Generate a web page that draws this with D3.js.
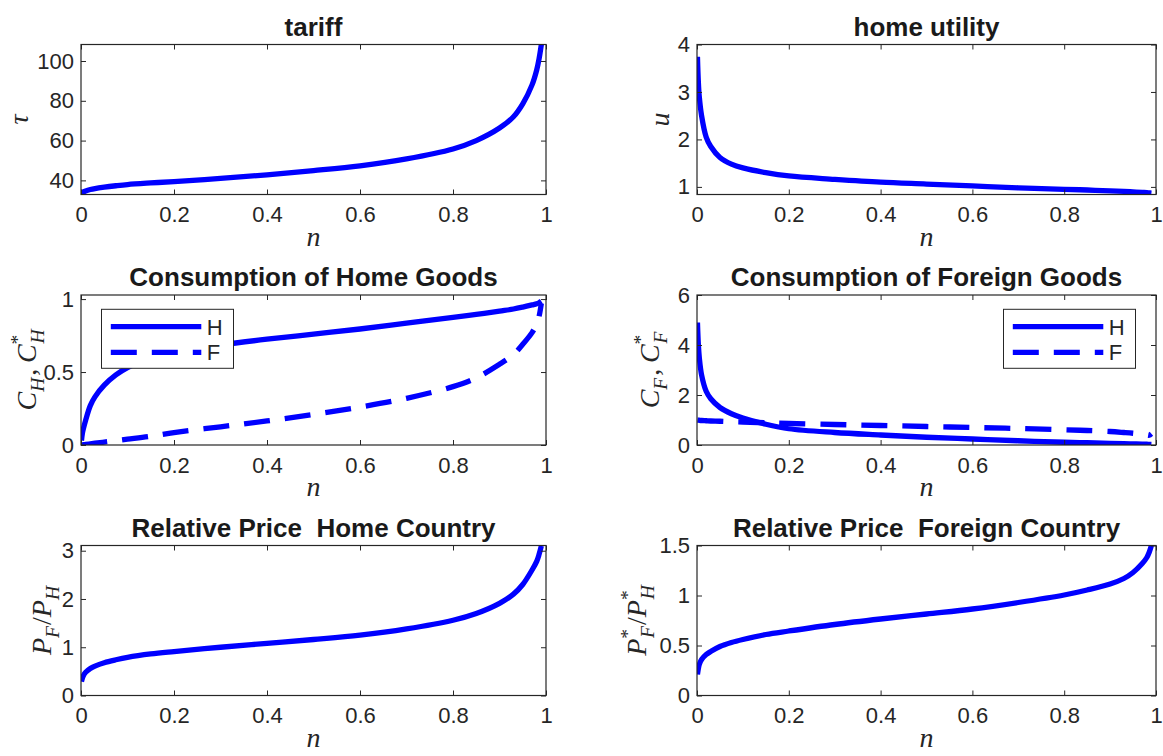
<!DOCTYPE html>
<html><head><meta charset="utf-8">
<script src="https://cdn.jsdelivr.net/npm/d3@7"></script>
<style>body{margin:0;background:#fff;} svg{display:block} .ttl{white-space:pre}</style>
</head><body><svg id="c" width="1163" height="756"></svg>
<script>
// ---------- data ----------
const nGrid = [0.001, 0.003, 0.005, 0.01, 0.02, 0.03, 0.05, 0.075, 0.1, 0.15, 0.2, 0.3, 0.4, 0.5, 0.6, 0.7, 0.8, 0.85, 0.9, 0.93, 0.95, 0.97, 0.98, 0.985, 0.99];
const tariff = [33.4, 33.9, 34.2, 34.7, 35.4, 35.9, 36.6, 37.3, 37.9, 38.7, 39.4, 41.0, 42.8, 44.9, 47.3, 50.8, 55.8, 60, 66.3, 72, 78.5, 88, 95.5, 101, 108.3];
const homeUtility = [3.74, 3.2, 2.9, 2.5, 2.05, 1.85, 1.62, 1.48, 1.40, 1.30, 1.23, 1.16, 1.10, 1.06, 1.02, 0.98, 0.95, 0.935, 0.915, 0.905, 0.895, 0.885, 0.88, 0.875, 0.87];
const consHomeH = [0.03, 0.08, 0.11, 0.17, 0.27, 0.33, 0.41, 0.48, 0.53, 0.6, 0.635, 0.685, 0.725, 0.76, 0.795, 0.835, 0.875, 0.895, 0.918, 0.932, 0.945, 0.96, 0.968, 0.975, 0.985];
const consHomeF = [0.0, 0.001, 0.002, 0.004, 0.008, 0.012, 0.02, 0.03, 0.04, 0.06, 0.085, 0.125, 0.165, 0.21, 0.26, 0.32, 0.40, 0.46, 0.553, 0.62, 0.69, 0.77, 0.83, 0.88, 0.97];
const consForH = [4.9, 4.0, 3.5, 2.8, 2.15, 1.85, 1.5, 1.25, 1.08, 0.83, 0.65, 0.5, 0.40, 0.31, 0.24, 0.17, 0.11, 0.09, 0.065, 0.05, 0.042, 0.035, 0.03, 0.028, 0.025];
const consForF = [1.0, 0.995, 0.99, 0.98, 0.97, 0.96, 0.95, 0.93, 0.92, 0.89, 0.86, 0.82, 0.78, 0.74, 0.70, 0.66, 0.61, 0.58, 0.54, 0.5, 0.47, 0.43, 0.40, 0.39, 0.45];
const priceHome = [0.29, 0.36, 0.41, 0.48, 0.56, 0.61, 0.68, 0.74, 0.79, 0.86, 0.91, 1.0, 1.08, 1.16, 1.25, 1.38, 1.56, 1.7, 1.91, 2.1, 2.3, 2.6, 2.78, 2.92, 3.1];
const priceForeign = [0.21, 0.27, 0.31, 0.36, 0.41, 0.44, 0.49, 0.53, 0.56, 0.61, 0.645, 0.71, 0.765, 0.815, 0.865, 0.93, 1.005, 1.055, 1.115, 1.17, 1.23, 1.32, 1.38, 1.43, 1.5];

const xTicks = [0, 0.2, 0.4, 0.6, 0.8, 1];
const xTickLabels = ["0", "0.2", "0.4", "0.6", "0.8", "1"];
const yTicksTariff = [40, 60, 80, 100];
const yTicksUtility = [1, 2, 3, 4];
const yTicksConsHome = [0, 0.5, 1];
const yTicksConsFor = [0, 2, 4, 6];
const yTicksPriceHome = [0, 1, 2, 3];
const yTicksPriceFor = [0, 0.5, 1, 1.5];
const yTickLabelsConsHome = ["0", "0.5", "1"];
const yTickLabelsPriceFor = ["0", "0.5", "1", "1.5"];
const legendLabels = ["H", "F"];
const titles = ["tariff", "home utility", "Consumption of Home Goods", "Consumption of Foreign Goods", "Relative Price  Home Country", "Relative Price  Foreign Country"];

// ---------- layout ----------
const cols = [{x0: 81, x1: 546}, {x0: 697, x1: 1156}];
const rows = [{y0: 44.5, y1: 194.5}, {y0: 295, y1: 445}, {y0: 545.5, y1: 695.5}];
const AX = "#262626";
const BLUE = "#0000ff";
const LW = 5.3;
const DASH = "26,15";
const SANS = "'Liberation Sans', Arial, Helvetica, sans-serif";
const SERIF = "'Liberation Serif', 'Times New Roman', serif";
const MATHFS = 28;

const I = t => ({t, it: true});
const R = (t, dx) => ({t, dx});
const SUB = (t, dx) => ({t, it: true, sub: true, dx});
const SUP = t => ({t, sup: true});

const panels = [
  {title: titles[0], c: 0, r: 0, yDomain: [32.9, 108.3], yTicks: yTicksTariff, series: [[tariff, false]], ylab: [I("τ")], ylx: 19},
  {title: titles[1], c: 1, r: 0, yDomain: [0.84, 4], yTicks: yTicksUtility, series: [[homeUtility, false]], ylab: [I("u")], ylx: 660},
  {title: titles[2], c: 0, r: 1, yDomain: [0, 1.028], yTicks: yTicksConsHome, yTickLabels: yTickLabelsConsHome, series: [[consHomeH, false], [consHomeF, true]], ylab: [I("C"), SUB("H"), R(",", 2), R("\u2009"), I("C"), SUP("*"), SUB("H", -9)], ylx: 27, legend: "nw"},
  {title: titles[3], c: 1, r: 1, yDomain: [0, 6], yTicks: yTicksConsFor, series: [[consForH, false], [consForF, true]], ylab: [I("C"), SUB("F"), R(",", 2), R("\u2009"), I("C"), SUP("*"), SUB("F", -9)], ylx: 650, legend: "ne"},
  {title: titles[4], c: 0, r: 2, yDomain: [0, 3.108], yTicks: yTicksPriceHome, series: [[priceHome, false]], ylab: [I("P"), SUB("F"), R("/", 1), I("P"), SUB("H")], ylx: 42},
  {title: titles[5], c: 1, r: 2, yDomain: [0, 1.5], yTicks: yTicksPriceFor, yTickLabels: yTickLabelsPriceFor, series: [[priceForeign, false]], ylab: [I("P"), SUP("*"), SUB("F", -9), R("/", 1), I("P"), SUP("*"), SUB("H", -9)], ylx: 637},
];

const svg = d3.select("#c");

function mathText(parent, parts, fs) {
  const t = parent.append("text").attr("font-family", SERIF).attr("font-size", fs).attr("fill", AX).attr("text-anchor", "middle").style("white-space", "pre");
  let cur = 0;
  parts.forEach(p => {
    const ts = t.append("tspan").text(p.t);
    const shift = p.sub ? 0.3 * fs : (p.sup ? -0.42 * fs : 0);
    ts.attr("dy", shift - cur);
    cur = shift;
    if (p.sub || p.sup) ts.attr("font-size", fs * 0.7);
    ts.attr("font-style", p.it ? "italic" : "normal");
    if (p.dx) ts.attr("dx", p.dx);
  });
  return t;
}

panels.forEach((p, idx) => {
  const C = cols[p.c], Rw = rows[p.r];
  const w = C.x1 - C.x0, h = Rw.y1 - Rw.y0;
  const x = d3.scaleLinear().domain([0, 1]).range([0, w]);
  const y = d3.scaleLinear().domain(p.yDomain).range([h, 0]);
  const g = svg.append("g").attr("transform", `translate(${C.x0},${Rw.y0})`);

  const clipId = "clip" + idx;
  g.append("clipPath").attr("id", clipId).append("rect").attr("width", w).attr("height", h);

  // lines
  const line = d3.line().x((d, i) => x(nGrid[i])).y(d => y(d)).curve(d3.curveCatmullRom.alpha(0.5));
  p.series.forEach(([vals, dashed]) => {
    g.append("path").attr("d", line(vals)).attr("clip-path", `url(#${clipId})`)
      .attr("fill", "none").attr("stroke", BLUE).attr("stroke-width", LW)
      .attr("stroke-dasharray", dashed ? DASH : null).attr("stroke-linejoin", "round");
  });

  // axes
  const styleAxis = sel => {
    sel.select(".domain").remove();
    sel.selectAll(".tick line").attr("stroke", AX).attr("stroke-width", 1);
    sel.selectAll(".tick text").attr("fill", AX).attr("font-family", SANS).attr("font-size", 22);
  };
  g.append("g").attr("transform", `translate(0,${h})`)
    .call(d3.axisBottom(x).tickValues(xTicks).tickFormat((d, i) => xTickLabels[i]).tickSizeInner(-5).tickSizeOuter(0).tickPadding(12))
    .call(styleAxis);
  g.append("g")
    .call(d3.axisTop(x).tickValues(xTicks).tickFormat("").tickSizeInner(-5).tickSizeOuter(0))
    .call(styleAxis);
  g.append("g")
    .call(d3.axisLeft(y).tickValues(p.yTicks).tickFormat((d, i) => p.yTickLabels ? p.yTickLabels[i] : String(d)).tickSizeInner(-5).tickSizeOuter(0).tickPadding(7))
    .call(styleAxis);
  g.append("g").attr("transform", `translate(${w},0)`)
    .call(d3.axisRight(y).tickValues(p.yTicks).tickFormat("").tickSizeInner(-5).tickSizeOuter(0))
    .call(styleAxis);
  g.append("rect").attr("width", w).attr("height", h).attr("fill", "none").attr("stroke", AX).attr("stroke-width", 1.2);

  // title
  g.append("text").attr("class", "ttl").attr("x", w / 2).attr("y", -9).attr("text-anchor", "middle")
    .attr("font-family", SANS).attr("font-weight", "bold").attr("font-size", 26).attr("fill", "#1a1a1a").text(p.title);

  // x label
  mathText(g.append("g").attr("transform", `translate(${w / 2},${h + 51})`), [I("n")], MATHFS);

  // y label
  const yl = svg.append("g").attr("transform", `translate(${p.ylx + 9},${Rw.y0 + h / 2}) rotate(-90)`);
  mathText(yl, p.ylab, MATHFS);

  // legend
  if (p.legend) {
    const lw = 132, lh = 59;
    const lx = p.legend === "nw" ? 20.5 : w - 20.5 - lw;
    const lg = g.append("g").attr("transform", `translate(${lx},14.3)`);
    lg.append("rect").attr("width", lw).attr("height", lh).attr("fill", "#fff").attr("stroke", AX).attr("stroke-width", 1);
    legendLabels.forEach((lab, i) => {
      const yy = i === 0 ? 17.4 : 43;
      lg.append("line").attr("x1", 9.3).attr("x2", 99.8).attr("y1", yy).attr("y2", yy)
        .attr("stroke", BLUE).attr("stroke-width", LW).attr("stroke-dasharray", i === 1 ? DASH : null);
      lg.append("text").attr("x", 105.3).attr("y", yy).attr("dy", "0.36em")
        .attr("font-family", SANS).attr("font-size", 22).attr("fill", AX).text(lab);
    });
  }
});
</script></body></html>
